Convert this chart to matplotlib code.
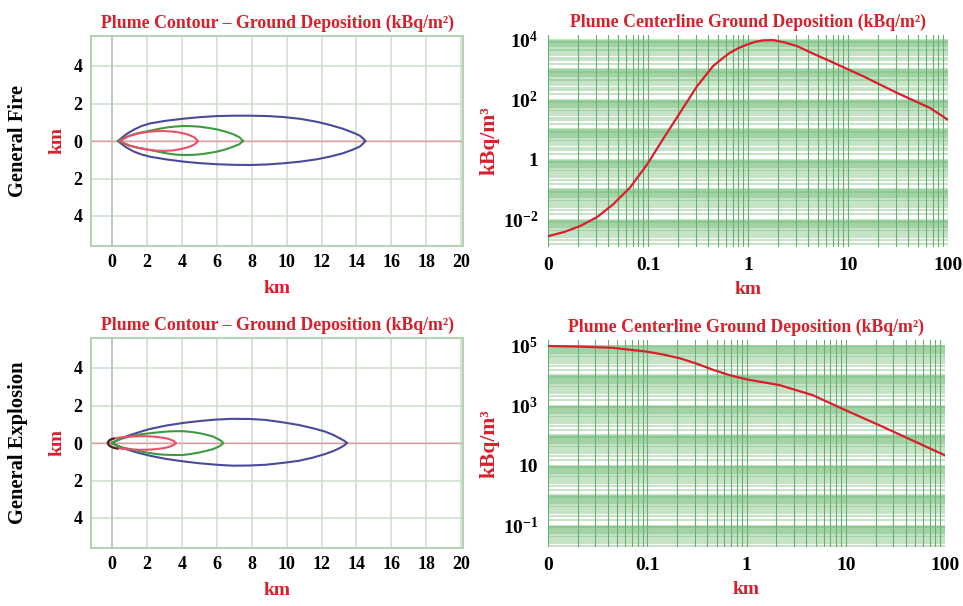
import numpy as np
import matplotlib
matplotlib.use("Agg")
import matplotlib.pyplot as plt
from matplotlib.ticker import FixedLocator, LogLocator, NullFormatter

plt.rcParams['font.family'] = ['Liberation Serif', 'DejaVu Serif']
plt.rcParams['font.weight'] = 'bold'
plt.rcParams['mathtext.fontset'] = 'custom'
plt.rcParams['mathtext.rm'] = 'Liberation Serif:bold'
plt.rcParams['mathtext.it'] = 'Liberation Serif:bold'
plt.rcParams['mathtext.bf'] = 'Liberation Serif:bold'

# ---------------- data ----------------
row_labels = ["General Fire", "General Explosion"]
contour_title = "Plume Contour \u2013 Ground Deposition (kBq/m\u00b2)"
center_title = "Plume Centerline Ground Deposition (kBq/m\u00b2)"

# Fire contours (x in km, upper / lower half-widths in km)
fire_blue_x = [0.35, 0.5, 0.8, 1.24, 1.7, 2.19, 3.1, 4.1, 5.0, 6.0, 7.0, 7.9, 8.9, 9.8,
               10.8, 11.7, 12.5, 13.2, 13.8, 14.2, 14.4, 14.5]
fire_blue_up = [0.0, 0.12, 0.35, 0.6, 0.8, 0.94, 1.08, 1.19, 1.27, 1.33, 1.35, 1.35, 1.33,
                1.28, 1.18, 1.03, 0.85, 0.66, 0.45, 0.28, 0.12, 0.0]
fire_blue_lo = [0.0, -0.12, -0.33, -0.56, -0.72, -0.84, -0.98, -1.10, -1.18, -1.24, -1.27,
                -1.28, -1.25, -1.19, -1.1, -0.98, -0.83, -0.66, -0.46, -0.29, -0.12, 0.0]
fire_green_x = [0.4, 0.6, 1.0, 1.5, 2.19, 2.7, 3.14, 3.6, 4.1, 4.6, 5.05, 5.5, 6.0, 6.5,
                6.95, 7.3, 7.5]
fire_green_up = [0.0, 0.12, 0.28, 0.42, 0.55, 0.65, 0.72, 0.77, 0.80, 0.79, 0.76, 0.7,
                 0.62, 0.5, 0.36, 0.2, 0.0]
fire_green_lo = [0.0, -0.11, -0.25, -0.36, -0.48, -0.58, -0.66, -0.72, -0.75, -0.74, -0.71,
                 -0.65, -0.57, -0.45, -0.3, -0.17, 0.0]
fire_red_x = [0.5, 0.7, 1.0, 1.5, 2.0, 2.5, 3.0, 3.5, 4.0, 4.4, 4.7, 4.85, 4.9]
fire_red_up = [0.0, 0.13, 0.27, 0.4, 0.48, 0.52, 0.53, 0.5, 0.43, 0.33, 0.2, 0.08, 0.0]
fire_red_lo = [0.0, -0.12, -0.24, -0.37, -0.46, -0.51, -0.53, -0.5, -0.42, -0.32, -0.2, -0.08, 0.0]

# Explosion contours
expl_blue_x = [0.0, 0.2, 0.6, 1.23, 1.7, 2.18, 3.1, 4.08, 5.0, 5.98, 6.9, 7.9, 8.8, 9.8,
               10.7, 11.5, 12.2, 12.7, 13.0, 13.3, 13.45]
expl_blue_up = [0.0, 0.1, 0.28, 0.48, 0.62, 0.75, 0.93, 1.07, 1.17, 1.25, 1.29, 1.28, 1.23,
                1.1, 0.96, 0.79, 0.61, 0.42, 0.27, 0.12, 0.0]
expl_blue_lo = [0.0, -0.1, -0.27, -0.45, -0.57, -0.68, -0.85, -0.98, -1.08, -1.16, -1.21,
                -1.2, -1.16, -1.06, -0.95, -0.78, -0.59, -0.42, -0.29, -0.13, 0.0]
expl_green_x = [0.0, 0.2, 0.6, 1.23, 1.7, 2.18, 2.65, 3.13, 3.6, 4.08, 4.55, 5.03, 5.45,
                5.8, 6.1, 6.3, 6.36]
expl_green_up = [0.0, 0.1, 0.24, 0.39, 0.47, 0.52, 0.57, 0.61, 0.63, 0.63, 0.59, 0.52,
                 0.43, 0.34, 0.2, 0.08, 0.0]
expl_green_lo = [0.0, -0.1, -0.24, -0.36, -0.46, -0.54, -0.6, -0.63, -0.64, -0.64, -0.58,
                 -0.5, -0.41, -0.32, -0.2, -0.08, 0.0]
expl_red_x = [-0.2, -0.1, 0.1, 0.5, 1.0, 1.5, 2.0, 2.5, 3.0, 3.3, 3.55, 3.65]
expl_red_up = [0.0, 0.15, 0.24, 0.3, 0.34, 0.36, 0.36, 0.33, 0.27, 0.2, 0.1, 0.0]
expl_red_lo = [0.0, -0.15, -0.24, -0.3, -0.34, -0.36, -0.36, -0.33, -0.27, -0.2, -0.1, 0.0]
expl_dark_x = [0.1, -0.1, -0.2, -0.25, -0.2, -0.1, 0.1, 0.3]
expl_dark_y = [0.24, 0.18, 0.1, 0.0, -0.1, -0.18, -0.26, -0.3]

# Centerline deposition (km, kBq/m2)
fire_dist = [0.01, 0.0145, 0.0209, 0.031, 0.0447, 0.066, 0.098, 0.141, 0.209, 0.309,
             0.447, 0.55, 0.661, 0.81, 0.977, 1.17, 1.41, 1.78, 2.34, 3.09, 4.47, 6.61,
             14.1, 30.9, 66.1, 100]
fire_dep = [0.00275, 0.0038, 0.006, 0.012, 0.0316, 0.115, 0.68, 4.7, 36, 275,
            1290, 2290, 3630, 5250, 6760, 8300, 9330, 9550, 7940, 6030, 3390, 1900,
            600, 166, 52, 21]
expl_dist = [0.01, 0.0214, 0.0447, 0.1, 0.148, 0.214, 0.316, 0.468, 0.676, 1.0, 2.14,
             4.68, 10, 21.9, 46.8, 100]
expl_dep = [93300, 89000, 81300, 60300, 47900, 36300, 24000, 14800, 10000, 7240, 4680,
            2140, 676, 214, 67.6, 21.4]

x_ticks_lin = [0, 2, 4, 6, 8, 10, 12, 14, 16, 18, 20]
y_ticks_lin = [-4, -2, 0, 2, 4]
y_ticklabels_lin = ["4", "2", "0", "2", "4"]
x_ticks_log = [0.01, 0.1, 1, 10, 100]
x_ticklabels_log = ["0", "0.1", "1", "10", "100"]
fire_y_ticks = [1e-2, 1, 1e2, 1e4]
fire_y_labels = [r"$\mathregular{10^{-2}}$", "1", r"$\mathregular{10^{2}}$", r"$\mathregular{10^{4}}$"]
expl_y_ticks = [1e-1, 10, 1e3, 1e5]
expl_y_labels = [r"$\mathregular{10^{-1}}$", "10", r"$\mathregular{10^{3}}$", r"$\mathregular{10^{5}}$"]

RED = '#d8202c'
W, H = 963, 606
fig = plt.figure(figsize=(W / 100, H / 100), dpi=100)


def ax_at(x0, y0, x1, y1):
    return fig.add_axes([x0 / W, 1 - y1 / H, (x1 - x0) / W, (y1 - y0) / H])


def contour_panel(ax, contours, title, extra=None):
    ax.set_xlim(-1.2, 20.1)
    ax.set_ylim(-5.6, 5.6)
    ax.xaxis.set_major_locator(FixedLocator(x_ticks_lin))
    ax.yaxis.set_major_locator(FixedLocator(y_ticks_lin))
    ax.set_yticklabels(y_ticklabels_lin)
    ax.grid(True, color='#cfe0cf', lw=1.2)
    ax.set_axisbelow(True)
    ax.axvline(0, color='#b8ccb8', lw=1.4, zorder=1)
    ax.axhline(0, color='#e89aa0', lw=1.0, zorder=1)
    for s in ax.spines.values():
        s.set_color('#b5d3b5')
        s.set_linewidth(1.5)
    ax.tick_params(length=0, labelsize=13, pad=6)
    for xs, up, lo, col in contours:
        ax.plot(xs, up, color=col, lw=1.5, zorder=3, solid_joinstyle='round')
        ax.plot(xs, lo, color=col, lw=1.5, zorder=3, solid_joinstyle='round')
    if extra is not None:
        ax.plot(extra[0], extra[1], color=extra[2], lw=1.5, zorder=4, solid_joinstyle='round')
    ax.set_title(title, color=RED, fontsize=12.8, fontweight='bold', pad=6)
    ax.set_xlabel("km", color=RED, fontsize=14, fontweight='bold', labelpad=6)
    ax.set_ylabel("km", color=RED, fontsize=14, fontweight='bold', labelpad=6)


def center_panel(ax, xs, ys, ylim, yticks, ylabels, title):
    ax.set_xscale('log')
    ax.set_yscale('log')
    ax.set_xlim(0.01, 100)
    ax.set_ylim(*ylim)
    ax.xaxis.set_major_locator(FixedLocator(x_ticks_log))
    ax.set_xticklabels(x_ticklabels_log)
    ax.yaxis.set_major_locator(FixedLocator(yticks))
    ax.set_yticklabels(ylabels)
    ax.xaxis.set_minor_locator(LogLocator(base=10, subs=np.arange(1, 10), numticks=100))
    ax.yaxis.set_minor_locator(LogLocator(base=10, subs=np.arange(1, 10, 0.5), numticks=100))
    ax.xaxis.set_minor_formatter(NullFormatter())
    ax.yaxis.set_minor_formatter(NullFormatter())
    ax.grid(True, which='minor', axis='x', color='#3f9a48', lw=0.8, alpha=0.8)
    ax.grid(True, which='minor', axis='y', color='#6cb872', lw=1.1, alpha=0.5)
    ax.grid(True, which='major', axis='x', color='#3f9a48', lw=0.8, alpha=0.8)
    ax.set_axisbelow(True)
    for s in ax.spines.values():
        s.set_visible(False)
    ax.tick_params(which='both', length=0, labelsize=14, pad=7)
    ax.plot(xs, ys, color=RED, lw=1.6, zorder=3, solid_joinstyle='round')
    ax.set_title(title, color=RED, fontsize=12.8, fontweight='bold', pad=6)
    ax.set_xlabel("km", color=RED, fontsize=14, fontweight='bold', labelpad=5)
    ax.set_ylabel("kBq/m\u00b3", color=RED, fontsize=15.5, fontweight='bold', labelpad=2)


BLUE = '#4a4a9a'
GREEN = '#3e9a40'
PINK = '#e8506a'
DARK = '#3a2a20'

ax1 = ax_at(91, 36, 463, 246)
contour_panel(ax1, [(fire_blue_x, fire_blue_up, fire_blue_lo, BLUE),
                    (fire_green_x, fire_green_up, fire_green_lo, GREEN),
                    (fire_red_x, fire_red_up, fire_red_lo, PINK)], contour_title)
ax3 = ax_at(91, 338, 463, 548)
contour_panel(ax3, [(expl_blue_x, expl_blue_up, expl_blue_lo, BLUE),
                    (expl_green_x, expl_green_up, expl_green_lo, GREEN),
                    (expl_red_x, expl_red_up, expl_red_lo, PINK)], contour_title,
              extra=(expl_dark_x, expl_dark_y, DARK))

ax2 = ax_at(548, 35, 948, 247)
center_panel(ax2, fire_dist, fire_dep, (10 ** -2.92, 10 ** 4.15),
             fire_y_ticks, fire_y_labels, center_title)
ax4 = ax_at(548, 340, 945, 547)
center_panel(ax4, expl_dist, expl_dep, (10 ** -1.72, 10 ** 5.17),
             expl_y_ticks, expl_y_labels, center_title)

fig.text(18 / W, 1 - 141 / H, row_labels[0], rotation=90, ha='center', va='center',
         fontsize=14.8, fontweight='bold', color='black')
fig.text(18 / W, 1 - 443 / H, row_labels[1], rotation=90, ha='center', va='center',
         fontsize=14.8, fontweight='bold', color='black')

fig.savefig("out.png", dpi=100, facecolor='white')
